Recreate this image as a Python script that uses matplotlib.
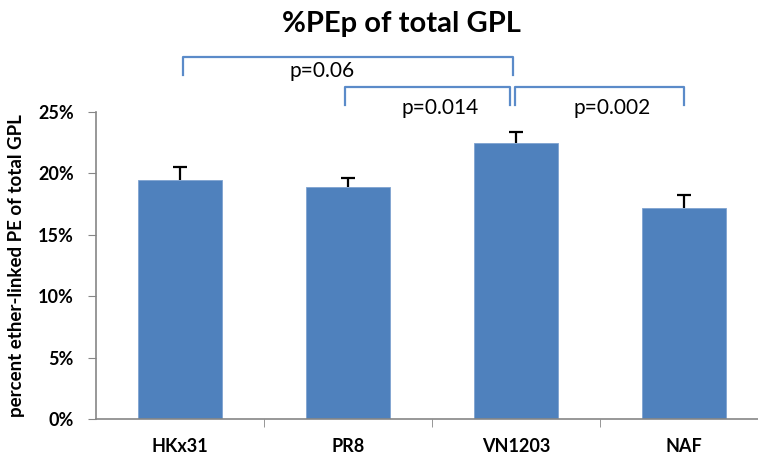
import matplotlib.pyplot as plt
import numpy as np
from matplotlib.ticker import PercentFormatter, FixedLocator

plt.rcParams['font.family'] = ['Lato', 'DejaVu Sans']

strains = ['HKx31', 'PR8', 'VN1203', 'NAF']
pep_pct = [0.195, 0.189, 0.225, 0.172]
pep_err = [0.010, 0.0073, 0.009, 0.0106]
y_ticks = [0, 0.05, 0.10, 0.15, 0.20, 0.25]

# comparisons: (left idx, right idx, label)
comparisons = [(0, 2, 'p=0.06'), (1, 2, 'p=0.014'), (2, 3, 'p=0.002')]

bar_color = '#4F81BD'
axis_gray = '#868686'

fig = plt.figure(figsize=(7.58, 4.58), dpi=100)
ax = fig.add_axes([0.1266, 0.0852, 0.8866, 0.6703])

x = np.arange(len(strains))
tops = np.array(pep_pct) + np.array(pep_err)
ax.bar(x, pep_pct, width=0.5, color=bar_color, edgecolor='#7FA3D0', linewidth=0.6, zorder=2)
# upper-only error bars
ax.vlines(x, pep_pct, tops, color='black', lw=1.6, zorder=3)
ax.plot(x, tops, ls='none', marker='_', ms=10, mew=1.6, color='black', zorder=3)

ax.set_xlim(-0.5, len(strains) - 0.5)
ax.set_ylim(0, 0.25)
ax.set_yticks(y_ticks)
ax.yaxis.set_major_formatter(PercentFormatter(1.0, decimals=0))
ax.set_xticks(x)
ax.set_xticklabels(strains, fontweight='bold', fontsize=13)
ax.tick_params(axis='x', which='major', length=0, pad=14)
ax.xaxis.set_minor_locator(FixedLocator(x[:-1] + 0.5))
ax.tick_params(axis='x', which='minor', length=6, color=axis_gray, direction='out')
ax.tick_params(axis='y', length=6, color=axis_gray, direction='out', labelsize=13, pad=10)
for lab in ax.get_yticklabels():
    lab.set_fontweight('bold')

for s in ['top', 'right']:
    ax.spines[s].set_visible(False)
for s in ['left', 'bottom']:
    ax.spines[s].set_color(axis_gray)
    ax.spines[s].set_linewidth(1.2)

ax.set_ylabel('percent ether-linked PE of total GPL', fontweight='bold', fontsize=13.5, labelpad=9)
fig.text(0.529, 0.948, '%PEp of total GPL', ha='center', va='center',
         fontsize=21, fontweight='bold')

# significance brackets
bracket_color = '#5B8BC9'
levels = {(0, 2): (0.295, 0.280), (1, 2): (0.270, 0.256), (2, 3): (0.270, 0.256)}
offsets = {(0, 2): (0.02, -0.02), (1, 2): (-0.02, -0.035), (2, 3): (-0.005, 0.0)}
text_pos = {(0, 2): (0.845, 0.283), (1, 2): (1.55, 0.253), (2, 3): (2.57, 0.253)}
for i, j, label in comparisons:
    top, bot = levels[(i, j)]
    dl, dr = offsets[(i, j)]
    xl, xr = x[i] + dl, x[j] + dr
    ax.plot([xl, xl, xr, xr], [bot, top, top, bot], color=bracket_color,
            lw=1.6, clip_on=False)
    tx, ty = text_pos[(i, j)]
    ax.text(tx, ty, label, ha='center', va='center', fontsize=15, clip_on=False)

plt.savefig('out.png', dpi=100)
plt.close()
